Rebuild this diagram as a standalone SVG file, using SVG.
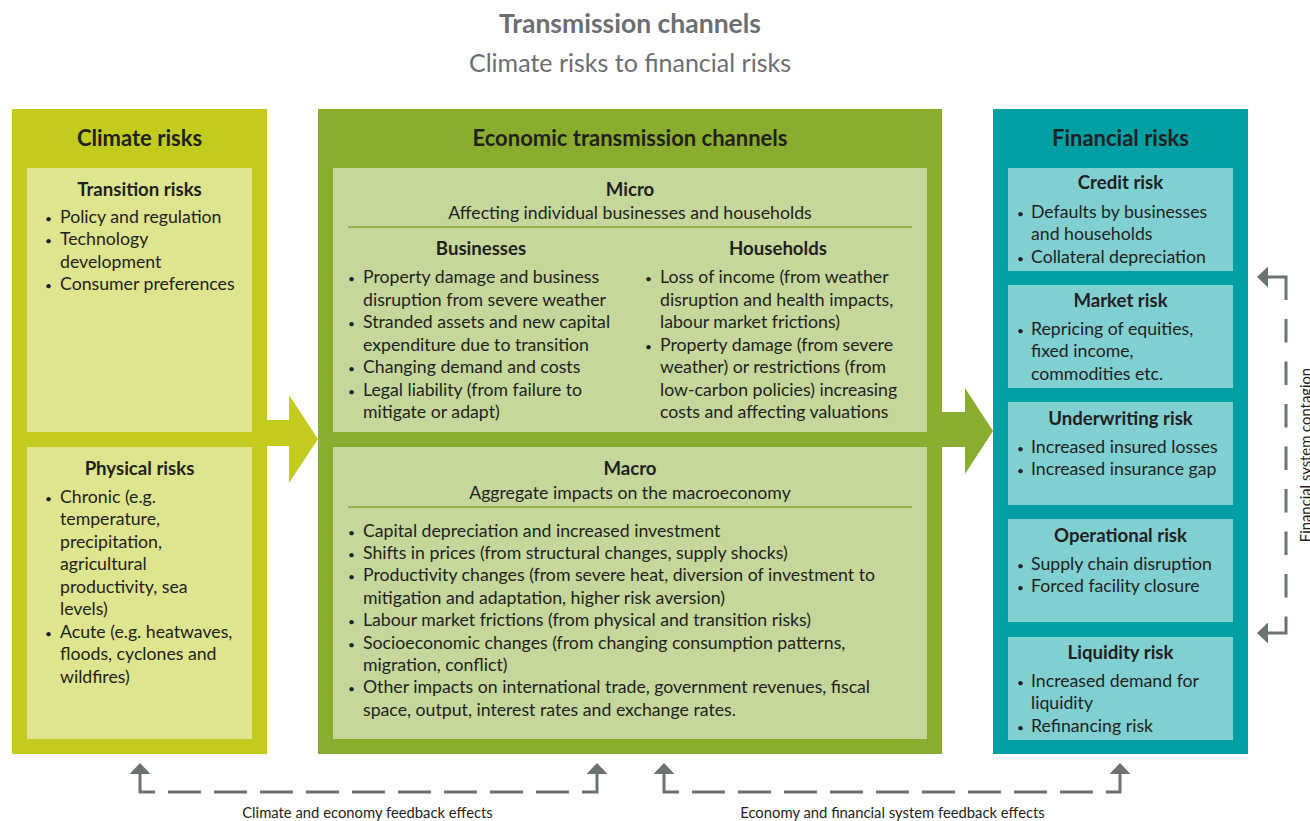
<svg xmlns="http://www.w3.org/2000/svg" width="1310" height="821" viewBox="0 0 1310 821">
<defs>
<style>
text{font-family:Lato,"Open Sans","Liberation Sans",sans-serif;fill:#231f20}
.b{font-size:17.7px}
.bu{font-size:12px}
.h{font-size:18.6px;font-weight:bold;text-anchor:middle}
.H{font-size:22px;font-weight:bold;text-anchor:middle}
.c{text-anchor:middle}
.tt{font-size:25px;fill:#6d6e71;text-anchor:middle}
.ttb{font-size:26.5px;font-weight:bold}
.fb{font-size:14.8px;fill:#231f20;text-anchor:middle}
.cl-o{fill:#c3cb1f}.cl-i{fill:#dfe48e}
.ec-o{fill:#89ad2f}.ec-i{fill:#c5d79b}
.fi-o{fill:#009fa4}.fi-i{fill:#80cfd1}
.rule{stroke:#89ad2f;stroke-width:1.6}
.fbk{fill:none;stroke:#6b7371;stroke-width:3}
</style>
<marker id="ah" markerUnits="userSpaceOnUse" viewBox="0 0 11 21" refX="0" refY="10.5" markerWidth="11" markerHeight="21" orient="auto-start-reverse">
<path d="M0,0 L11,10.5 L0,21 z" fill="#6b7371"/>
</marker>
</defs>
<g id="title">
<text class="tt ttb" x="630" y="33">Transmission channels</text>
<text class="tt" x="630" y="72">Climate risks to financial risks</text>
</g>
<g id="climate-risks">
<rect class="cl-o" x="12" y="109" width="255" height="645"/>
<text class="H" x="139.5" y="145.5">Climate risks</text>
</g>
<g id="transition-risks">
<rect class="cl-i" x="27" y="168" width="225" height="264"/>
<text class="h" x="139.5" y="195.5">Transition risks</text>
<text class="b"><tspan class="bu" x="45" y="222.5">•</tspan><tspan x="60">Policy and regulation</tspan></text>
<text class="b"><tspan class="bu" x="45" y="245">•</tspan><tspan x="60">Technology</tspan></text>
<text class="b" x="60" y="267.5">development</text>
<text class="b"><tspan class="bu" x="45" y="290">•</tspan><tspan x="60">Consumer preferences</tspan></text>
</g>
<g id="physical-risks">
<rect class="cl-i" x="27" y="447" width="225" height="292"/>
<text class="h" x="139.5" y="474.5">Physical risks</text>
<text class="b"><tspan class="bu" x="45" y="502.5">•</tspan><tspan x="60">Chronic (e.g.</tspan></text>
<text class="b" x="60" y="525">temperature,</text>
<text class="b" x="60" y="547.5">precipitation,</text>
<text class="b" x="60" y="570">agricultural</text>
<text class="b" x="60" y="592.5">productivity, sea</text>
<text class="b" x="60" y="615">levels)</text>
<text class="b"><tspan class="bu" x="45" y="637.5">•</tspan><tspan x="60">Acute (e.g. heatwaves,</tspan></text>
<text class="b" x="60" y="660">floods, cyclones and</text>
<text class="b" x="60" y="682.5">wildfires)</text>
</g>
<g id="economic-channels">
<rect class="ec-o" x="318" y="109" width="624" height="645"/>
<text class="H" x="630" y="145.5">Economic transmission channels</text>
</g>
<g id="micro">
<rect class="ec-i" x="333" y="168" width="594" height="264"/>
<text class="h" x="630" y="195.5">Micro</text>
<text class="b c" x="630" y="219">Affecting individual businesses and households</text>
<line class="rule" x1="348" y1="227" x2="912" y2="227"/>
<text class="h" x="481" y="255">Businesses</text>
<text class="b"><tspan class="bu" x="348" y="283">•</tspan><tspan x="363">Property damage and business</tspan></text>
<text class="b" x="363" y="305.5">disruption from severe weather</text>
<text class="b"><tspan class="bu" x="348" y="328">•</tspan><tspan x="363">Stranded assets and new capital</tspan></text>
<text class="b" x="363" y="350.5">expenditure due to transition</text>
<text class="b"><tspan class="bu" x="348" y="373">•</tspan><tspan x="363">Changing demand and costs</tspan></text>
<text class="b"><tspan class="bu" x="348" y="395.5">•</tspan><tspan x="363">Legal liability (from failure to</tspan></text>
<text class="b" x="363" y="418">mitigate or adapt)</text>
<text class="h" x="778" y="255">Households</text>
<text class="b"><tspan class="bu" x="645" y="283">•</tspan><tspan x="660">Loss of income (from weather</tspan></text>
<text class="b" x="660" y="305.5">disruption and health impacts,</text>
<text class="b" x="660" y="328">labour market frictions)</text>
<text class="b"><tspan class="bu" x="645" y="350.5">•</tspan><tspan x="660">Property damage (from severe</tspan></text>
<text class="b" x="660" y="373">weather) or restrictions (from</text>
<text class="b" x="660" y="395.5">low-carbon policies) increasing</text>
<text class="b" x="660" y="418">costs and affecting valuations</text>
</g>
<g id="macro">
<rect class="ec-i" x="333" y="447" width="594" height="292"/>
<text class="h" x="630" y="474.5">Macro</text>
<text class="b c" x="630" y="498.5">Aggregate impacts on the macroeconomy</text>
<line class="rule" x1="348" y1="507" x2="912" y2="507"/>
<text class="b"><tspan class="bu" x="348" y="536.5">•</tspan><tspan x="363">Capital depreciation and increased investment</tspan></text>
<text class="b"><tspan class="bu" x="348" y="558.9">•</tspan><tspan x="363">Shifts in prices (from structural changes, supply shocks)</tspan></text>
<text class="b"><tspan class="bu" x="348" y="581.3">•</tspan><tspan x="363">Productivity changes (from severe heat, diversion of investment to</tspan></text>
<text class="b" x="363" y="603.7">mitigation and adaptation, higher risk aversion)</text>
<text class="b"><tspan class="bu" x="348" y="626.1">•</tspan><tspan x="363">Labour market frictions (from physical and transition risks)</tspan></text>
<text class="b"><tspan class="bu" x="348" y="648.5">•</tspan><tspan x="363">Socioeconomic changes (from changing consumption patterns,</tspan></text>
<text class="b" x="363" y="670.9">migration, conflict)</text>
<text class="b"><tspan class="bu" x="348" y="693.3">•</tspan><tspan x="363">Other impacts on international trade, government revenues, fiscal</tspan></text>
<text class="b" x="363" y="715.7">space, output, interest rates and exchange rates.</text>
</g>
<g id="financial-risks">
<rect class="fi-o" x="993" y="109" width="255" height="645"/>
<text class="H" x="1120.5" y="145.5">Financial risks</text>
</g>
<g id="credit-risk">
<rect class="fi-i" x="1008" y="168" width="225" height="103"/>
<text class="h" x="1120.5" y="188.5">Credit risk</text>
<text class="b"><tspan class="bu" x="1017" y="217.5">•</tspan><tspan x="1031">Defaults by businesses</tspan></text>
<text class="b" x="1031" y="240">and households</text>
<text class="b"><tspan class="bu" x="1017" y="262.5">•</tspan><tspan x="1031">Collateral depreciation</tspan></text>
</g>
<g id="market-risk">
<rect class="fi-i" x="1008" y="285" width="225" height="103"/>
<text class="h" x="1120.5" y="306.5">Market risk</text>
<text class="b"><tspan class="bu" x="1017" y="334.5">•</tspan><tspan x="1031">Repricing of equities,</tspan></text>
<text class="b" x="1031" y="357">fixed income,</text>
<text class="b" x="1031" y="379.5">commodities etc.</text>
</g>
<g id="underwriting-risk">
<rect class="fi-i" x="1008" y="402" width="225" height="103"/>
<text class="h" x="1120.5" y="424.5">Underwriting risk</text>
<text class="b"><tspan class="bu" x="1017" y="452.5">•</tspan><tspan x="1031">Increased insured losses</tspan></text>
<text class="b"><tspan class="bu" x="1017" y="475">•</tspan><tspan x="1031">Increased insurance gap</tspan></text>
</g>
<g id="operational-risk">
<rect class="fi-i" x="1008" y="519" width="225" height="103"/>
<text class="h" x="1120.5" y="541.5">Operational risk</text>
<text class="b"><tspan class="bu" x="1017" y="569.5">•</tspan><tspan x="1031">Supply chain disruption</tspan></text>
<text class="b"><tspan class="bu" x="1017" y="592">•</tspan><tspan x="1031">Forced facility closure</tspan></text>
</g>
<g id="liquidity-risk">
<rect class="fi-i" x="1008" y="637" width="225" height="103"/>
<text class="h" x="1120.5" y="658.5">Liquidity risk</text>
<text class="b"><tspan class="bu" x="1017" y="686.5">•</tspan><tspan x="1031">Increased demand for</tspan></text>
<text class="b" x="1031" y="709">liquidity</text>
<text class="b"><tspan class="bu" x="1017" y="731.5">•</tspan><tspan x="1031">Refinancing risk</tspan></text>
</g>
<g id="connectors">
<polygon points="267,420 289,420 289,395 318,439 289,483 289,446 267,446" fill="#c3cb1f"/>
<polygon points="942,412 965,412 965,388 993,431 965,474 965,447 942,447" fill="#89ad2f"/>
<path class="fbk" d="M140,774 V792 H597 V774" stroke-dasharray="33 13" marker-start="url(#ah)" marker-end="url(#ah)"/>
<path class="fbk" d="M664,774 V792 H1120 V774" stroke-dasharray="33 13" marker-start="url(#ah)" marker-end="url(#ah)"/>
<path class="fbk" d="M1268,277 H1286 V633 H1268" stroke-dasharray="41 19 23.5 19 23.5 19 23.5 19 23.5 19 23.5 19 23.5 19 23.5 19 40" marker-start="url(#ah)" marker-end="url(#ah)"/>
<text class="fb" x="367.5" y="818">Climate and economy feedback effects</text>
<text class="fb" x="892.5" y="818">Economy and financial system feedback effects</text>
<text class="fb" transform="translate(1310.5,455) rotate(-90)">Financial system contagion</text>
</g>
</svg>
